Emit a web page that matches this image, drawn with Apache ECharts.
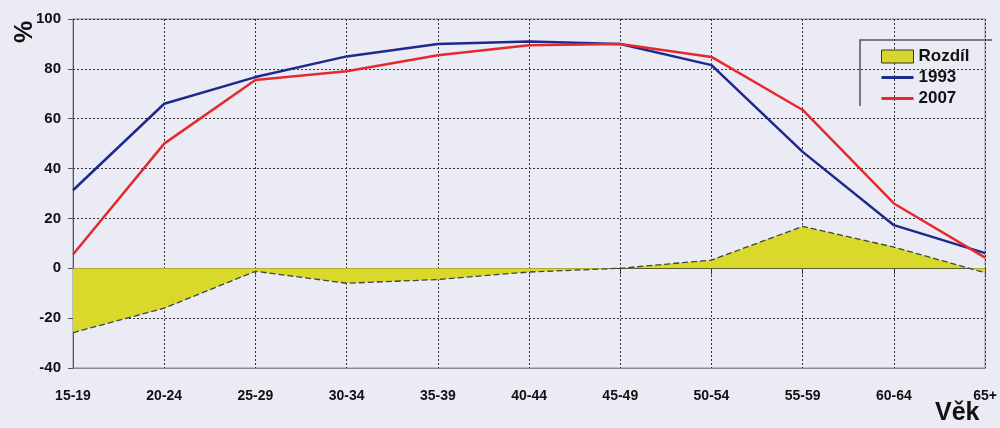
<!DOCTYPE html>
<html>
<head>
<meta charset="utf-8">
<script src="https://cdn.jsdelivr.net/npm/echarts@6/dist/echarts.min.js"></script>
<style>
  html, body { margin: 0; padding: 0; background: #ebebf5; }
  #chart { width: 1000px; height: 428px; }
</style>
</head>
<body>
<div id="chart"></div>
<script>
// Age groups
const categories = ['15-19', '20-24', '25-29', '30-34', '35-39', '40-44', '45-49', '50-54', '55-59', '60-64', '65+'];
// Employment rate (%) by age group
const rate1993 = [31.3, 66, 76.7, 85, 90, 91, 90, 81.5, 46.7, 17.3, 6.1];
const rate2007 = [5.5, 50, 75.5, 79, 85.5, 89.5, 90, 84.8, 63.5, 26, 4.3];
// Difference 2007 - 1993
const diff = [-25.8, -16, -1.2, -6, -4.5, -1.5, 0, 3.3, 16.8, 8.5, -1.8];
const yTicks = [-40, -20, 0, 20, 40, 60, 80, 100];

const FONT = 'Liberation Sans, Arial, sans-serif';
const LINE_ICON = 'path://M0,0 L32,0 L32,3 L0,3 Z';
const chart = echarts.init(document.getElementById('chart'), null, { renderer: 'canvas' });

chart.setOption({
  backgroundColor: '#ebebf5',
  animation: false,
  grid: {
    left: 73, right: 8, top: 19, bottom: 60,
    show: true, borderColor: '#8a8a8a', borderWidth: 1, backgroundColor: 'transparent'
  },
  legend: {
    left: 876, top: 43, orient: 'vertical', itemGap: 4,
    itemWidth: 32, itemHeight: 13,
    textStyle: { fontFamily: FONT, fontWeight: 'bold', fontSize: 17, color: '#111' },
    data: [
      { name: 'Rozdíl', icon: 'rect', itemStyle: { color: '#d6d62e', borderColor: '#333', borderWidth: 1 } },
      { name: '1993', icon: LINE_ICON, itemStyle: { color: '#1c2a8c' } },
      { name: '2007', icon: LINE_ICON, itemStyle: { color: '#e52a2f' } }
    ]
  },
  xAxis: [
    {
      type: 'category', data: categories, boundaryGap: false,
      axisLine: { onZero: false, lineStyle: { color: '#8a8a8a' } },
      axisTick: { show: false },
      axisLabel: { fontFamily: FONT, fontWeight: 'bold', fontSize: 14, color: '#111', margin: 21 },
      splitLine: { show: true, lineStyle: { color: '#333', width: 1, type: [2, 2] } }
    },
    {
      type: 'category', data: categories, boundaryGap: false, position: 'bottom',
      axisLine: { onZero: true, lineStyle: { color: '#333', width: 1 } },
      axisTick: { show: true, inside: false, length: 6, lineStyle: { color: '#333' } },
      axisLabel: { show: false },
      splitLine: { show: false }
    }
  ],
  yAxis: {
    type: 'value', min: -40, max: 100, interval: 20,
    axisLine: { show: true, lineStyle: { color: '#555', width: 1 } },
    axisTick: { show: true, length: 5, lineStyle: { color: '#555' } },
    axisLabel: {
      fontFamily: FONT, fontWeight: 'bold', fontSize: 15, color: '#111', margin: 12,
      formatter: v => (yTicks.includes(v) ? String(v) : '')
    },
    splitLine: { show: true, lineStyle: { color: '#333', width: 1, type: [2, 2] } }
  },
  series: [
    {
      name: 'Rozdíl', type: 'line', data: diff, symbol: 'none', z: 1,
      lineStyle: { color: '#444', width: 1.3, type: [6, 3] },
      itemStyle: { color: '#d6d62e' },
      areaStyle: { color: '#d9d92c', opacity: 1, origin: 0 }
    },
    {
      name: '1993', type: 'line', data: rate1993, symbol: 'none', z: 3,
      lineStyle: { color: '#1c2a8c', width: 2.5 },
      itemStyle: { color: '#1c2a8c' }
    },
    {
      name: '2007', type: 'line', data: rate2007, symbol: 'none', z: 3,
      lineStyle: { color: '#e52a2f', width: 2.5 },
      itemStyle: { color: '#e52a2f' }
    }
  ],
  graphic: [
    {
      type: 'polyline', z: 10,
      shape: { points: [[860, 106], [860, 40], [992, 40]] },
      style: { stroke: '#555', lineWidth: 1.5, fill: null }
    },
    {
      type: 'text', x: 25, y: 32, rotation: Math.PI / 2,
      style: { text: '%', fontFamily: FONT, fontWeight: 'bold', fontSize: 25, fill: '#111',
               align: 'center', verticalAlign: 'middle' }
    },
    {
      type: 'text', left: 935, top: 401,
      style: { text: 'Věk', fontFamily: FONT, fontWeight: 'bold', fontSize: 25, fill: '#111' }
    }
  ]
});
</script>
</body>
</html>
